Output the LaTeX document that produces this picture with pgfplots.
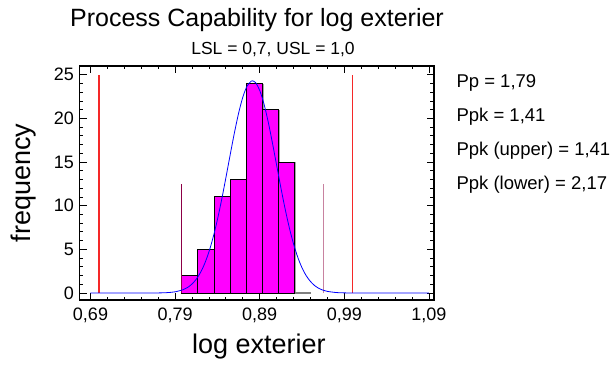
\documentclass[border=0pt]{standalone}
\usepackage{pgfplots}
\pgfplotsset{compat=1.18}
\usepackage{fontspec}
\setmainfont{Liberation Sans}
\definecolor{specred}{RGB}{245,40,40}
\definecolor{sigl}{RGB}{140,0,70}
\definecolor{sigr}{RGB}{200,130,160}
\definecolor{barfill}{RGB}{255,0,255}
\begin{document}
\begin{tikzpicture}
\path[use as bounding box] (0,0) rectangle (614pt,365pt);
\begin{axis}[
  at={(79.5pt,65pt)}, anchor=south west,
  width=354.5pt, height=234pt, scale only axis,
  xmin=0.677, xmax=1.096, ymin=-0.8, ymax=26,
  axis line style={line width=1.3pt},
  xtick={0.69,0.79,0.89,0.99,1.09},
  ytick={0,5,10,15,20,25},
  minor x tick num=4, minor y tick num=4,
  tick align=inside,
  major tick length=7pt, minor tick length=3.5pt,
  tick style={black, line width=0.8pt},
  xticklabel style={/pgf/number format/fixed, /pgf/number format/fixed zerofill, /pgf/number format/precision=2, /pgf/number format/use comma, yshift=-4pt},
  /pgf/number format/assume math mode=true,
  ticklabel style={font=\fontsize{18}{20}\selectfont},
  yticklabel style={xshift=-2pt},
  clip=false,
]
% bar shadows
\addplot[ybar interval, draw=gray!70, fill=none, line width=1pt, xshift=1.2pt, yshift=-0.8pt]
  coordinates {(0.798,2) (0.817,5) (0.836,11) (0.855,13) (0.874,24) (0.893,21) (0.912,15) (0.931,15)};
\addplot[gray, line width=1.2pt] coordinates {(0.931,0) (0.9505,0)};
% histogram
\addplot[ybar interval, fill=barfill, draw=black, line width=1pt]
  coordinates {(0.798,2) (0.817,5) (0.836,11) (0.855,13) (0.874,24) (0.893,21) (0.912,15) (0.931,15)};
% spec limits
\addplot[specred, line width=1.2pt] coordinates {(0.7,0) (0.7,25)};
\addplot[specred, line width=1.2pt] coordinates {(1.0,0) (1.0,25)};
% 3-sigma lines
\addplot[sigl, line width=1.1pt] coordinates {(0.7975,0) (0.7975,12.5)};
\addplot[sigr, line width=1.6pt] coordinates {(0.9653,0) (0.9653,12.5)};
% fitted normal curve
\addplot[blue, line width=0.8pt, smooth] coordinates {
(0.69,0) (0.72,0.0) (0.75,0.0005) (0.77,0.011) (0.78,0.041) (0.79,0.137)
(0.80,0.40) (0.805,0.652) (0.81,1.031) (0.815,1.580) (0.82,2.348) (0.825,3.38)
(0.83,4.72) (0.835,6.40) (0.84,8.40) (0.845,10.69) (0.85,13.19) (0.855,15.78)
(0.86,18.30) (0.865,20.57) (0.87,22.42) (0.875,23.69) (0.88,24.27) (0.8814,24.3)
(0.885,24.11) (0.89,23.21) (0.895,21.67) (0.90,19.61) (0.905,17.20) (0.91,14.64)
(0.915,12.07) (0.92,9.65) (0.925,7.48) (0.93,5.62) (0.935,4.09) (0.94,2.89)
(0.945,1.98) (0.95,1.32) (0.955,0.846) (0.96,0.528) (0.965,0.319) (0.97,0.187)
(0.98,0.059) (0.99,0.016) (1.01,0.0003) (1.05,0) (1.09,0)};
\end{axis}
% titles and labels
\node[font=\fontsize{25}{28}\selectfont] at (257pt,345pt) {Process Capability for log exterier};
\node[font=\fontsize{17.5}{20}\selectfont] at (273pt,315pt) {LSL = 0,7, USL = 1,0};
\node[font=\fontsize{27}{30}\selectfont] at (259pt,18pt) {log exterier};
\node[font=\fontsize{27}{30}\selectfont, rotate=90] at (24pt,182pt) {frequency};
\node[font=\fontsize{18.5}{20}\selectfont, anchor=west] at (453pt,282pt) {Pp = 1,79};
\node[font=\fontsize{18.5}{20}\selectfont, anchor=west] at (453pt,248pt) {Ppk = 1,41};
\node[font=\fontsize{18.5}{20}\selectfont, anchor=west] at (453pt,214pt) {Ppk (upper) = 1,41};
\node[font=\fontsize{18.5}{20}\selectfont, anchor=west] at (453pt,180pt) {Ppk (lower) = 2,17};
\end{tikzpicture}
\end{document}
